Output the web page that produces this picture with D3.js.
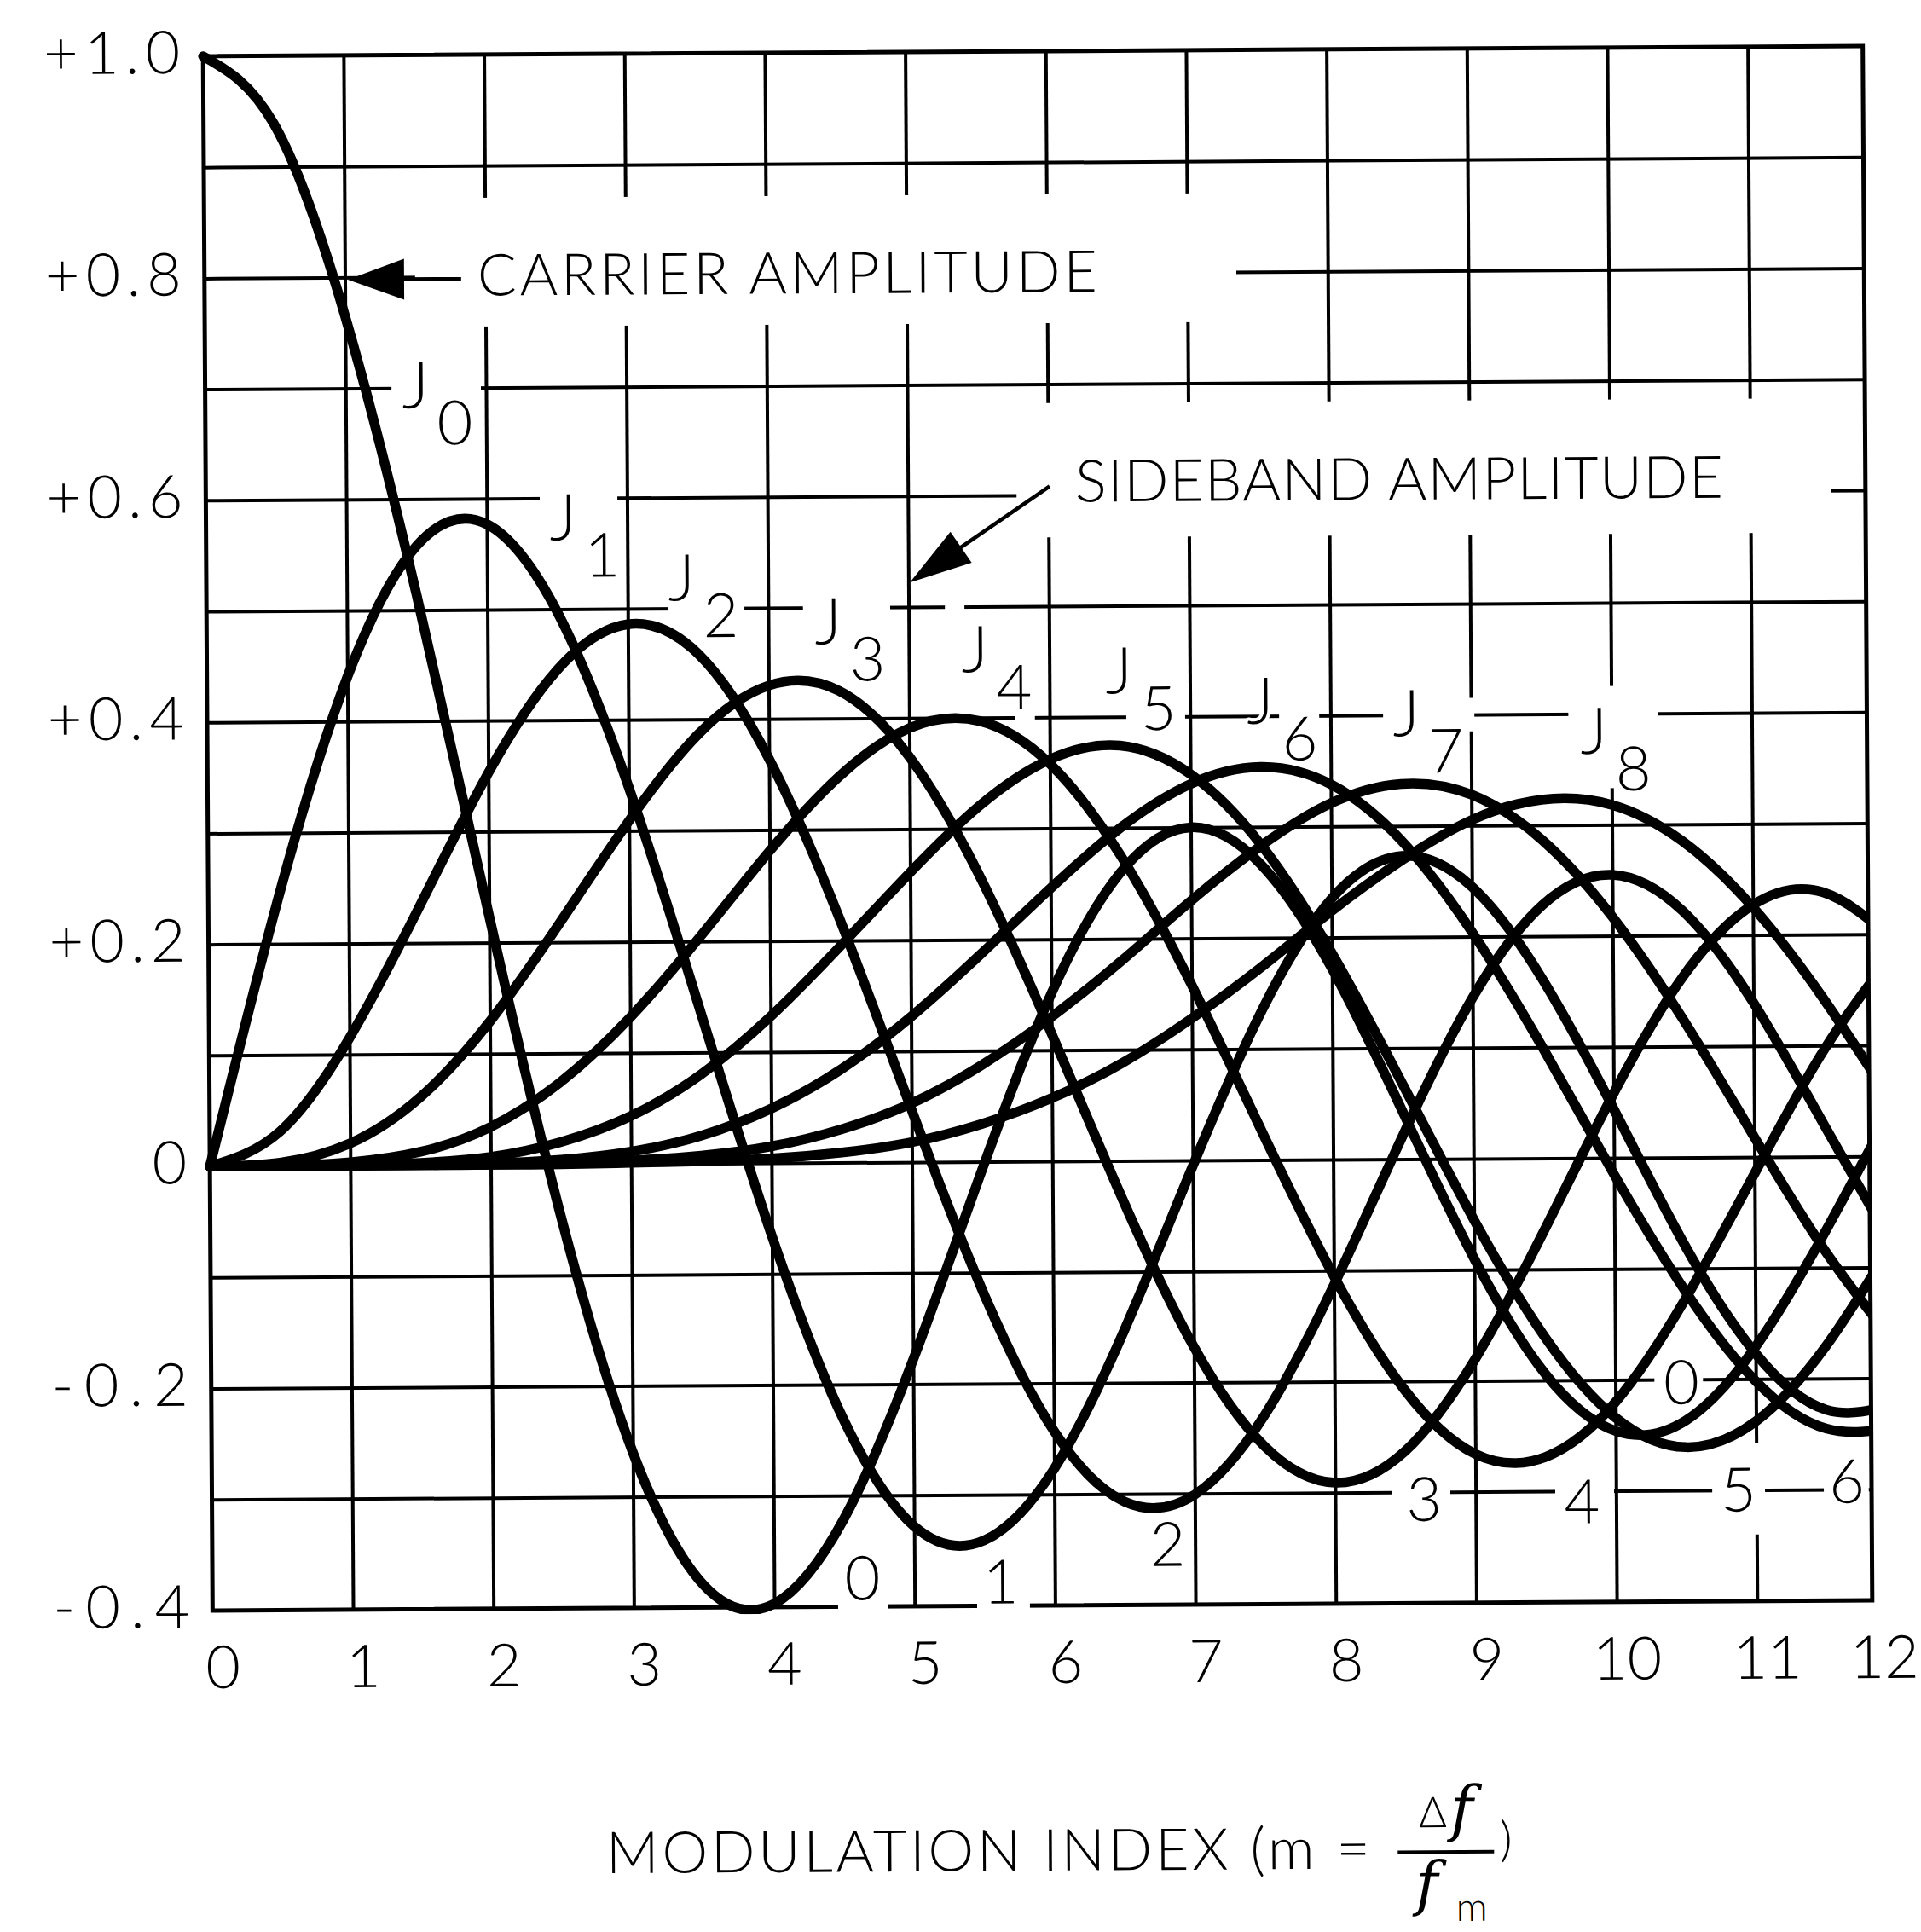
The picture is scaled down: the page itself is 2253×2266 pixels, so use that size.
<!DOCTYPE html>
<html><head><meta charset="utf-8">
<script src="https://cdn.jsdelivr.net/npm/d3@7"></script>
<style>html,body{margin:0;padding:0;background:#fff;} svg{display:block;}</style>
</head><body><svg id="chart" width="2253" height="2266"></svg>
<script>
// ---------------- data ----------------
const modIndex = [0,0.5,1,1.5,2,2.5,3,3.5,4,4.5,5,5.5,6,6.5,7,7.5,8,8.5,9,9.5,10,10.5,11,11.5,12];
const J0 = [1.000,0.939,0.765,0.512,0.224,-0.048,-0.260,-0.380,-0.397,-0.321,-0.178,-0.007,0.151,0.260,0.300,0.266,0.172,0.042,-0.090,-0.194,-0.246,-0.237,-0.171,-0.068,0.048];
const J1 = [0.000,0.242,0.440,0.558,0.577,0.497,0.339,0.137,-0.066,-0.231,-0.328,-0.341,-0.277,-0.154,-0.005,0.135,0.235,0.273,0.245,0.161,0.044,-0.079,-0.177,-0.228,-0.223];
const J2 = [0.000,0.031,0.115,0.232,0.353,0.446,0.486,0.459,0.364,0.218,0.047,-0.117,-0.243,-0.307,-0.301,-0.230,-0.113,0.022,0.145,0.228,0.255,0.222,0.139,0.028,-0.085];
const J3 = [0.000,0.003,0.020,0.061,0.129,0.217,0.309,0.387,0.430,0.425,0.365,0.256,0.115,-0.035,-0.168,-0.258,-0.291,-0.263,-0.181,-0.065,0.058,0.163,0.227,0.238,0.195];
const J4 = [0.000,0.000,0.003,0.012,0.034,0.074,0.132,0.204,0.281,0.348,0.391,0.397,0.358,0.275,0.158,0.024,-0.105,-0.208,-0.266,-0.269,-0.220,-0.128,-0.015,0.096,0.183];
const J5 = [0.000,0.000,0.000,0.002,0.007,0.020,0.043,0.080,0.132,0.195,0.261,0.321,0.362,0.374,0.348,0.284,0.186,0.067,-0.055,-0.161,-0.234,-0.261,-0.238,-0.171,-0.074];
const J6 = [0.000,0.000,0.000,0.000,0.001,0.004,0.011,0.025,0.049,0.084,0.131,0.187,0.246,0.300,0.339,0.354,0.338,0.287,0.204,0.099,-0.015,-0.120,-0.202,-0.245,-0.244];
const J7 = [0.000,0.000,0.000,0.000,0.000,0.001,0.003,0.007,0.015,0.030,0.053,0.087,0.130,0.180,0.234,0.283,0.321,0.338,0.328,0.287,0.217,0.124,0.018,-0.085,-0.170];
const J8 = [0.000,0.000,0.000,0.000,0.000,0.000,0.001,0.002,0.004,0.009,0.018,0.034,0.057,0.088,0.128,0.174,0.224,0.269,0.305,0.323,0.318,0.285,0.225,0.142,0.045];
const seriesNames = ["J0","J1","J2","J3","J4","J5","J6","J7","J8"];

const xTickValues = [0,1,2,3,4,5,6,7,8,9,10,11,12];
const xTickLabels = ["0","1","2","3","4","5","6","7","8","9","10","11","12"];
const yTickValues = [1.0,0.8,0.6,0.4,0.2,0,-0.2,-0.4];
const yTickLabels = ["+1.0","+0.8","+0.6","+0.4","+0.2","0","-0.2","-0.4"];

// annotation anchors (data units)
const peakLabelSub = ["0","1","2","3","4","5","6","7","8"];
const peakLabelX = [1.498,2.543,3.384,4.427,5.470,6.496,7.501,8.540,9.876];
const peakLabelY = [0.682,0.562,0.507,0.467,0.441,0.421,0.393,0.381,0.364];
const troughLabelText = ["0","1","2","3","4","5","6","0"];
const troughLabelX = [4.629,5.615,6.804,8.633,9.757,10.872,11.644,10.470];
const troughLabelY = [-0.394,-0.398,-0.365,-0.326,-0.329,-0.319,-0.312,-0.222];
const carrierText = "CARRIER AMPLITUDE";
const sidebandText = "SIDEBAND AMPLITUDE";
const xTitle = "MODULATION INDEX (m =";

// ---------------- layout ----------------
const X0 = 243.75, UNIT = 164.68, TOP = 60, BOTTOM = 1883, XEND = 11.82;
const FONT = "Lato, 'Open Sans', 'DejaVu Sans', sans-serif";
const x = d3.scaleLinear().domain([0,12]).range([X0, X0 + 12*UNIT]);
const y = d3.scaleLinear().domain([-0.4,1.0]).range([BOTTOM, TOP]);
const plotW = x(XEND) - x(0), plotH = y(-0.4) - y(1.0);

// white breaks in the grid behind labels [x0,x1,y0,y1] in data units
const gapBoxes = [
  [1.5,7.349,0.755,0.871],
  [5.774,11.573,0.562,0.683],
  [1.327,1.964,0.685,0.715],
  [2.378,2.931,0.585,0.615],
  [3.290,3.831,0.485,0.515],
  [4.248,4.869,0.485,0.515],
  [5.259,5.398,0.485,0.515],
  [5.755,5.895,0.385,0.415],
  [6.546,6.965,0.385,0.415],
  [7.634,7.920,0.385,0.415],
  [8.375,9.025,0.385,0.415],
  [9.694,10.331,0.385,0.415],
  [9.95,10.05,0.333,0.425],
  [4.455,4.813,-0.41,-0.39],
  [5.445,5.821,-0.41,-0.39],
  [8.402,8.820,-0.315,-0.285],
  [9.567,9.986,-0.315,-0.285],
  [10.685,11.061,-0.315,-0.285],
  [11.480,11.80,-0.315,-0.285],
  [10.95,11.05,-0.340,-0.258],
  [10.278,10.624,-0.215,-0.185]
];

const svg = d3.select("#chart");
const defs = svg.append("defs");
defs.append("clipPath").attr("id","plotclip").append("rect")
  .attr("x", x(0)-8).attr("y", y(1.0)-8).attr("width", plotW+9).attr("height", plotH+16);

const g = svg.append("g").attr("transform","rotate(-0.35,1217,971.5)");

// grid via axes
const gridY = d3.axisLeft(y).tickValues(d3.range(-3,10).map(i=>i/10)).tickSize(-plotW).tickFormat("");
g.append("g").attr("transform",`translate(${x(0)},0)`).call(gridY)
  .call(s=>s.select(".domain").remove())
  .call(s=>s.selectAll("line").attr("stroke","#000").attr("stroke-width",4));
const gridX = d3.axisBottom(x).tickValues(d3.range(1,12)).tickSize(-plotH).tickFormat("");
g.append("g").attr("transform",`translate(0,${y(-0.4)})`).call(gridX)
  .call(s=>s.select(".domain").remove())
  .call(s=>s.selectAll("line").attr("stroke","#000").attr("stroke-width",4));

// border
g.append("rect").attr("x",x(0)).attr("y",y(1.0)).attr("width",plotW).attr("height",plotH)
  .attr("fill","none").attr("stroke","#000").attr("stroke-width",5);

// gaps
g.append("g").selectAll("rect").data(gapBoxes).join("rect")
  .attr("x",d=>x(d[0])).attr("y",d=>y(d[3]))
  .attr("width",d=>x(d[1])-x(d[0])).attr("height",d=>y(d[2])-y(d[3]))
  .attr("fill","#fff");

// curves
const series = [J0,J1,J2,J3,J4,J5,J6,J7,J8];
const line = d3.line().x((d,i)=>x(modIndex[i])).y(d=>y(d)).curve(d3.curveNatural);
g.append("g").attr("clip-path","url(#plotclip)")
  .selectAll("path").data(series).join("path")
  .attr("class",(d,i)=>seriesNames[i])
  .attr("d",line).attr("fill","none").attr("stroke","#000")
  .attr("stroke-width",11.5).attr("stroke-linejoin","round").attr("stroke-linecap","round");

// arrows
function arrow(from,to,headLen,halfW){
  const p0=[x(from[0]),y(from[1])], p1=[x(to[0]),y(to[1])];
  const dx=p1[0]-p0[0], dy=p1[1]-p0[1], L=Math.hypot(dx,dy), ux=dx/L, uy=dy/L;
  const bx=p1[0]-ux*headLen, by=p1[1]-uy*headLen;
  g.append("line").attr("x1",p0[0]).attr("y1",p0[1]).attr("x2",bx+ux*4).attr("y2",by+uy*4)
    .attr("stroke","#000").attr("stroke-width",4.5);
  g.append("path").attr("d",`M${p1[0]},${p1[1]}L${bx-uy*halfW},${by+ux*halfW}L${bx+uy*halfW},${by-ux*halfW}Z`)
    .attr("fill","#000");
}
arrow([1.828,0.798],[1.021,0.798],66,24);
arrow([6.010,0.608],[5.010,0.522],73,22);

function txt(sel){ return sel.attr("font-family",FONT).attr("font-weight",300).attr("fill","#000"); }

// y tick labels
txt(g.append("g").selectAll("text").data(yTickValues).join("text"))
  .attr("x",x(0)-27).attr("y",d=>y(d)+20).attr("text-anchor","end").attr("font-size",70)
  .each(function(d,i){ const s=d3.select(this).text(yTickLabels[i]); if(yTickLabels[i].length>1) s.attr("textLength",160).attr("lengthAdjust","spacing"); });

// x tick labels
txt(g.append("g").selectAll("text").data(xTickValues).join("text"))
  .attr("x",d=>Math.min(x(d)+12, x(XEND)+14)).attr("y",BOTTOM+91).attr("text-anchor","middle").attr("font-size",70)
  .text((d,i)=>xTickLabels[i]);

// J labels
const jl = g.append("g").selectAll("g").data(peakLabelSub).join("g")
  .attr("transform",(d,i)=>`translate(${x(peakLabelX[i])},${y(peakLabelY[i])})`);
txt(jl.append("text")).attr("text-anchor","middle").attr("font-size",76).text("J")
  .attr("stroke","#fff").attr("stroke-width",8).attr("paint-order","stroke");
txt(jl.append("text")).attr("x",46).attr("y",43).attr("text-anchor","middle").attr("font-size",72).text(d=>d)
  .attr("stroke","#fff").attr("stroke-width",8).attr("paint-order","stroke");

// trough labels
txt(g.append("g").selectAll("text").data(troughLabelText).join("text"))
  .attr("x",(d,i)=>x(troughLabelX[i])).attr("y",(d,i)=>y(troughLabelY[i]))
  .attr("text-anchor","middle").attr("font-size",72).text(d=>d)
  .attr("stroke","#fff").attr("stroke-width",8).attr("paint-order","stroke");

// annotation texts
txt(g.append("text")).attr("x",x(1.943)).attr("y",y(0.783)).attr("font-size",68)
  .attr("textLength",727).attr("lengthAdjust","spacing").text(carrierText);
txt(g.append("text")).attr("x",x(6.191)).attr("y",y(0.594)).attr("font-size",69)
  .attr("textLength",760).attr("lengthAdjust","spacing").text(sidebandText);

// x-axis title
txt(g.append("text")).attr("x",703.5).attr("y",2194).attr("font-size",68)
  .attr("textLength",896).attr("lengthAdjust","spacing").text(xTitle);
txt(g.append("text")).attr("x",1657).attr("y",2146).attr("font-size",50).text("Δ");
g.append("text").attr("x",1694).attr("y",2149).attr("font-family","'DejaVu Serif', 'Liberation Serif', serif")
  .attr("font-style","italic").attr("font-size",72).text("f");
g.append("line").attr("x1",1632).attr("x2",1745).attr("y1",2175).attr("y2",2175).attr("stroke","#000").attr("stroke-width",4);
g.append("text").attr("x",1653).attr("y",2236).attr("font-family","'DejaVu Serif', 'Liberation Serif', serif")
  .attr("font-style","italic").attr("font-size",70).text("f");
txt(g.append("text")).attr("x",1700).attr("y",2256).attr("font-size",46).text("m");
txt(g.append("text")).attr("x",1752).attr("y",2180).attr("font-size",56).text(")");
</script></body></html>
